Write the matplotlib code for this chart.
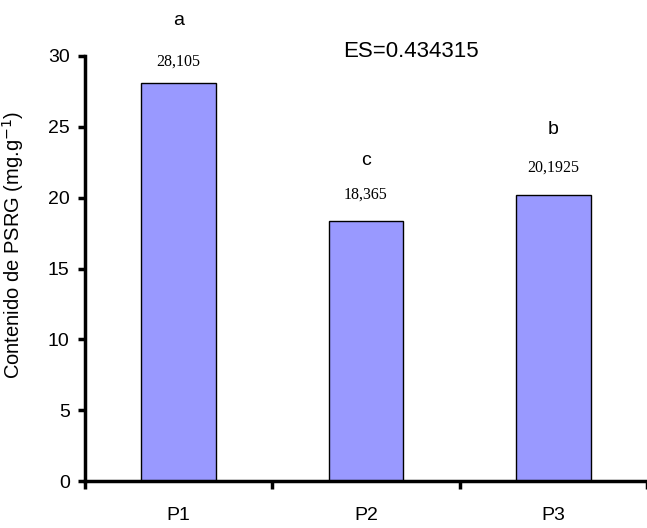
import matplotlib
matplotlib.use("Agg")
from matplotlib import pyplot as plt

categories = ['P1', 'P2', 'P3']
values = [28.105, 18.365, 20.1925]
value_labels = ['28,105', '18,365', '20,1925']
value_label_heights = [29.6, 20.2, 22.15]
letters = ['a', 'c', 'b']
letter_heights = [32.5, 22.65, 24.8]
es_text = 'ES=0.434315'

plt.rcParams['font.family'] = ['Liberation Sans', 'DejaVu Sans']

fig = plt.figure(figsize=(6.47, 5.28), dpi=100)
ax = fig.add_axes([85 / 647, 47 / 528, 562 / 647, 425 / 528])

x = range(len(categories))
ax.bar(x, values, width=0.4, color='#9999ff', edgecolor='black', linewidth=1)

for i, v in enumerate(values):
    ax.text(i, value_label_heights[i], value_labels[i], ha='center', va='center',
            family='Liberation Serif', fontsize=11.5)
    ax.text(i, letter_heights[i], letters[i], ha='center', va='center',
            fontsize=14, clip_on=False)

ax.text(1.24, 30.3, es_text, ha='center', va='center', fontsize=16)

ax.set_xlim(-0.5, 2.5)
ax.set_ylim(0, 30)
ax.set_yticks([0, 5, 10, 15, 20, 25, 30])
ax.set_xticks(list(x))
ax.set_xticklabels(categories)
ax.set_xticks([-0.5, 0.5, 1.5, 2.5], minor=True)

ax.spines['top'].set_visible(False)
ax.spines['right'].set_visible(False)
ax.spines['left'].set_linewidth(2.5)
ax.spines['bottom'].set_linewidth(2.5)

ax.tick_params(axis='y', direction='out', length=5, width=2.5, labelsize=14, pad=6)
ax.tick_params(axis='x', which='major', length=0, labelsize=14, pad=19)
ax.tick_params(axis='x', which='minor', direction='out', length=6, width=2.5)

ax.set_ylabel('Contenido de PSRG (mg.g$^{-1}$)', fontsize=14.5)
ax.yaxis.set_label_coords(-0.105, 0.555)

fig.savefig('out.png', dpi=100)
